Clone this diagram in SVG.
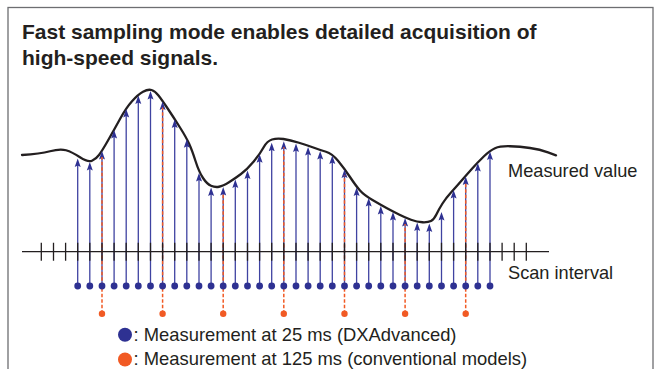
<svg xmlns="http://www.w3.org/2000/svg" width="659" height="369" viewBox="0 0 659 369">
<style>
.t{font-family:"Liberation Sans",Arial,sans-serif;fill:#231f20}
.title{font-size:21px;font-weight:bold}
.lbl{font-size:18.2px}
.leg{font-size:18.4px}
.blue{stroke:#3f43a1;stroke-width:1.3;fill:none;marker-end:url(#ah)}
.or{stroke:#f15a24;stroke-width:1.5;stroke-dasharray:3.5 2;fill:none}
.bd{fill:#2e3192}
.od{fill:#f15a24}
</style>
<defs>
<marker id="ah" markerUnits="userSpaceOnUse" markerWidth="9" markerHeight="7" refX="3.5" refY="3" orient="auto" viewBox="0 0 9 6">
<path d="M0,0 L8.5,3 L0,6 L1.5,3 z" fill="#2e3192"/>
</marker>
</defs>
<rect width="659" height="369" fill="#fff"/>
<rect id="frame" x="8" y="7.5" width="645" height="390" fill="none" stroke="#6d6e71" stroke-width="1.3"/>
<g id="title">
<text class="t title" x="22" y="39.3">Fast sampling mode enables detailed acquisition of</text>
<text class="t title" x="22" y="65">high-speed signals.</text>
</g>
<g id="curve">
<path d="M22,155 Q40,154 50,151.25 Q60,148.5 66,150.25 Q72,152 80,157.25 Q88,162.5 92,160.75 Q96,159 99,155 Q102,151 108,140.5 Q114,130 120,119 Q126,108 132,101.25 Q138,94.5 143,91.75 Q148,89 151.5,90 Q155,91 158.5,95.5 Q162,100 168,109 Q174,118 180,127.5 Q186,137 189,143.5 Q192,150 195.5,161 Q199,172 203,178 Q207,184 211,185.75 Q215,187.5 219,186.75 Q223,186 229,182.25 Q235,178.5 241,174 Q247,169.5 253.5,161.75 Q260,154 263.5,147.5 Q267,141 272,139.5 Q277,138 283.5,139 Q290,140 299,142.75 Q308,145.5 314,147.75 Q320,150 326,151.75 Q332,153.5 338,160.75 Q344,168 350,177 Q356,186 360,190.5 Q364,195 372.5,200 Q381,205 387,208.25 Q393,211.5 399,214.5 Q405,217.5 411,219.75 Q417,222 422.5,222.25 Q428,222.5 431,221 Q434,219.5 436.5,214.25 Q439,209 442.5,203.5 Q446,198 451,192.5 Q456,187 461,181.25 Q466,175.5 472,168.75 Q478,162 484,156.25 Q490,150.5 495,148.25 Q500,146 510,146.25 Q520,146.5 530,148 Q540,149.5 548,152.4 L556,155.3" fill="none" stroke="#231f20" stroke-width="2.3" stroke-linecap="round" stroke-linejoin="round"/>
</g>
<g id="connectors">
<line class="blue" x1="77.7" y1="286" x2="77.7" y2="163.5"/>
<line class="blue" x1="89.8" y1="286" x2="89.8" y2="167"/>
<line class="blue" x1="102" y1="286" x2="102" y2="156"/>
<line class="blue" x1="114.1" y1="286" x2="114.1" y2="135"/>
<line class="blue" x1="126.2" y1="286" x2="126.2" y2="114"/>
<line class="blue" x1="138.3" y1="286" x2="138.3" y2="100.5"/>
<line class="blue" x1="150.5" y1="286" x2="150.5" y2="96"/>
<line class="blue" x1="162.6" y1="286" x2="162.6" y2="106.5"/>
<line class="blue" x1="174.7" y1="286" x2="174.7" y2="124.5"/>
<line class="blue" x1="186.8" y1="286" x2="186.8" y2="144.3"/>
<line class="blue" x1="199" y1="286" x2="199" y2="178"/>
<line class="blue" x1="211.1" y1="286" x2="211.1" y2="192.5"/>
<line class="blue" x1="223.2" y1="286" x2="223.2" y2="192"/>
<line class="blue" x1="235.3" y1="286" x2="235.3" y2="184.5"/>
<line class="blue" x1="247.5" y1="286" x2="247.5" y2="175.5"/>
<line class="blue" x1="259.6" y1="286" x2="259.6" y2="159.3"/>
<line class="blue" x1="271.7" y1="286" x2="271.7" y2="147.8"/>
<line class="blue" x1="283.8" y1="286" x2="283.8" y2="146.2"/>
<line class="blue" x1="296" y1="286" x2="296" y2="148.5"/>
<line class="blue" x1="308.1" y1="286" x2="308.1" y2="152"/>
<line class="blue" x1="320.2" y1="286" x2="320.2" y2="156"/>
<line class="blue" x1="332.3" y1="286" x2="332.3" y2="160.5"/>
<line class="blue" x1="344.5" y1="286" x2="344.5" y2="174.5"/>
<line class="blue" x1="356.6" y1="286" x2="356.6" y2="192.5"/>
<line class="blue" x1="368.7" y1="286" x2="368.7" y2="203"/>
<line class="blue" x1="380.8" y1="286" x2="380.8" y2="211"/>
<line class="blue" x1="393" y1="286" x2="393" y2="217"/>
<line class="blue" x1="405.1" y1="286" x2="405.1" y2="223"/>
<line class="blue" x1="417.2" y1="286" x2="417.2" y2="227.5"/>
<line class="blue" x1="429.3" y1="286" x2="429.3" y2="228.5"/>
<line class="blue" x1="441.5" y1="286" x2="441.5" y2="217"/>
<line class="blue" x1="453.6" y1="286" x2="453.6" y2="195"/>
<line class="blue" x1="465.7" y1="286" x2="465.7" y2="181.5"/>
<line class="blue" x1="477.8" y1="286" x2="477.8" y2="168"/>
<line class="blue" x1="490" y1="286" x2="490" y2="156.5"/>
<line class="or" x1="102" y1="313.7" x2="102" y2="157"/>
<line class="or" x1="162.6" y1="313.7" x2="162.6" y2="107.5"/>
<line class="or" x1="223.2" y1="313.7" x2="223.2" y2="193"/>
<line class="or" x1="283.8" y1="313.7" x2="283.8" y2="147.2"/>
<line class="or" x1="344.5" y1="313.7" x2="344.5" y2="175.5"/>
<line class="or" x1="405.1" y1="313.7" x2="405.1" y2="224"/>
<line class="or" x1="465.7" y1="313.7" x2="465.7" y2="182.5"/>
</g>
<g id="axis" stroke="#231f20" stroke-width="1.3" fill="none">
<path d="M22,251.7 H549"/>
<path d="M41.3,242.7V260.7M53.5,242.7V260.7M65.6,242.7V260.7M77.7,242.7V260.7M89.8,242.7V260.7M102,242.7V260.7M114.1,242.7V260.7M126.2,242.7V260.7M138.3,242.7V260.7M150.5,242.7V260.7M162.6,242.7V260.7M174.7,242.7V260.7M186.8,242.7V260.7M199,242.7V260.7M211.1,242.7V260.7M223.2,242.7V260.7M235.3,242.7V260.7M247.5,242.7V260.7M259.6,242.7V260.7M271.7,242.7V260.7M283.8,242.7V260.7M296,242.7V260.7M308.1,242.7V260.7M320.2,242.7V260.7M332.3,242.7V260.7M344.5,242.7V260.7M356.6,242.7V260.7M368.7,242.7V260.7M380.8,242.7V260.7M393,242.7V260.7M405.1,242.7V260.7M417.2,242.7V260.7M429.3,242.7V260.7M441.5,242.7V260.7M453.6,242.7V260.7M465.7,242.7V260.7M477.8,242.7V260.7M490,242.7V260.7M502.1,242.7V260.7M514.2,242.7V260.7M526.3,242.7V260.7"/>
</g>
<g id="blue-dots" class="bd">
<circle cx="77.7" cy="286" r="3.4"/><circle cx="89.8" cy="286" r="3.4"/><circle cx="102" cy="286" r="3.4"/><circle cx="114.1" cy="286" r="3.4"/><circle cx="126.2" cy="286" r="3.4"/><circle cx="138.3" cy="286" r="3.4"/><circle cx="150.5" cy="286" r="3.4"/><circle cx="162.6" cy="286" r="3.4"/><circle cx="174.7" cy="286" r="3.4"/><circle cx="186.8" cy="286" r="3.4"/><circle cx="199" cy="286" r="3.4"/><circle cx="211.1" cy="286" r="3.4"/><circle cx="223.2" cy="286" r="3.4"/><circle cx="235.3" cy="286" r="3.4"/><circle cx="247.5" cy="286" r="3.4"/><circle cx="259.6" cy="286" r="3.4"/><circle cx="271.7" cy="286" r="3.4"/><circle cx="283.8" cy="286" r="3.4"/><circle cx="296" cy="286" r="3.4"/><circle cx="308.1" cy="286" r="3.4"/><circle cx="320.2" cy="286" r="3.4"/><circle cx="332.3" cy="286" r="3.4"/><circle cx="344.5" cy="286" r="3.4"/><circle cx="356.6" cy="286" r="3.4"/><circle cx="368.7" cy="286" r="3.4"/><circle cx="380.8" cy="286" r="3.4"/><circle cx="393" cy="286" r="3.4"/><circle cx="405.1" cy="286" r="3.4"/><circle cx="417.2" cy="286" r="3.4"/><circle cx="429.3" cy="286" r="3.4"/><circle cx="441.5" cy="286" r="3.4"/><circle cx="453.6" cy="286" r="3.4"/><circle cx="465.7" cy="286" r="3.4"/><circle cx="477.8" cy="286" r="3.4"/><circle cx="490" cy="286" r="3.4"/>
</g>
<g id="orange-dots" class="od">
<circle cx="102" cy="313.7" r="3.2"/><circle cx="162.6" cy="313.7" r="3.2"/><circle cx="223.2" cy="313.7" r="3.2"/><circle cx="283.8" cy="313.7" r="3.2"/><circle cx="344.5" cy="313.7" r="3.2"/><circle cx="405.1" cy="313.7" r="3.2"/><circle cx="465.7" cy="313.7" r="3.2"/>
</g>
<g id="labels">
<text class="t lbl" x="508" y="177">Measured value</text>
<text class="t lbl" x="508" y="279.3">Scan interval</text>
</g>
<g id="legend">
<circle class="bd" cx="125" cy="334.7" r="7"/>
<text class="t leg" x="133.5" y="341.3">: Measurement at 25 ms (DXAdvanced)</text>
<circle class="od" cx="125" cy="359.5" r="7"/>
<text class="t leg" x="133.5" y="365.3">: Measurement at 125 ms (conventional models)</text>
</g>
</svg>
